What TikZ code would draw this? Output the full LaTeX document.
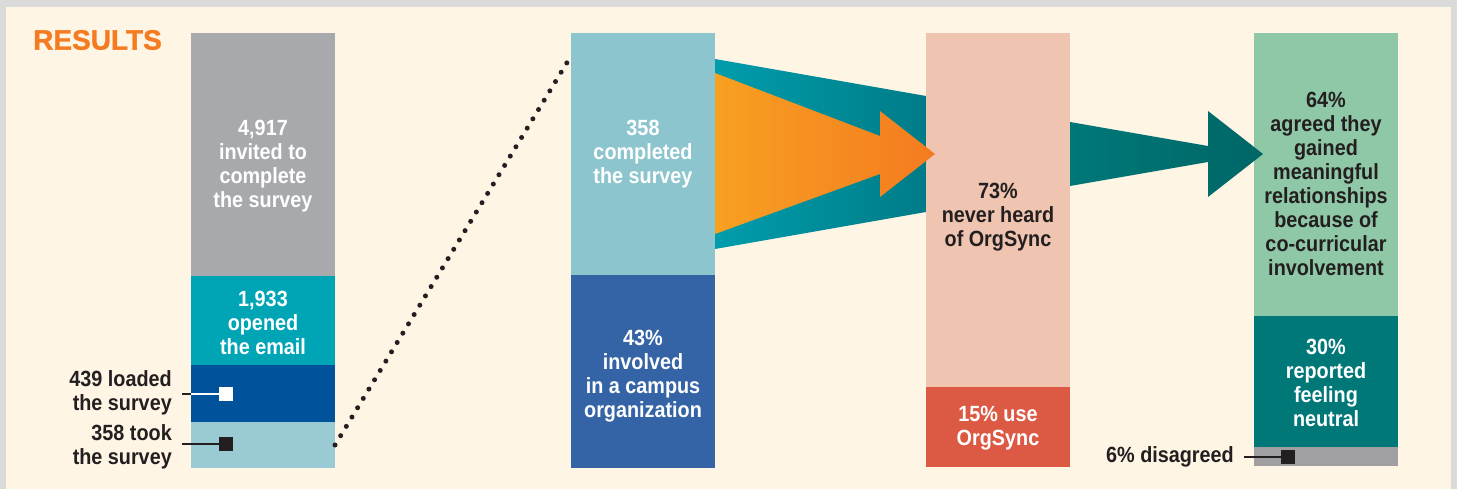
\documentclass[tikz,border=0pt]{standalone}
\usepackage{fontspec}
\newfontfamily\infofont{Liberation Sans}[FakeStretch=0.9]
\newfontfamily\headfont{Liberation Sans}[FakeBold=1.2]
\usetikzlibrary{positioning}

%% palette
\definecolor{frame}{HTML}{DADADA}
\definecolor{cream}{HTML}{FEF5E5}
\definecolor{ink}{HTML}{231F20}
\definecolor{orng}{HTML}{F47B20}
\definecolor{amber}{HTML}{F7A021}
\definecolor{gryA}{HTML}{A7A9AC}
\definecolor{tealA}{HTML}{00A5B5}
\definecolor{navyA}{HTML}{00539B}
\definecolor{skyA}{HTML}{9ACBD5}
\definecolor{skyB}{HTML}{8DC5CF}
\definecolor{blueB}{HTML}{3463A6}
\definecolor{pinkC}{HTML}{EFC4B1}
\definecolor{redC}{HTML}{DC5944}
\definecolor{greenD}{HTML}{8FC8A6}
\definecolor{tealD}{HTML}{007878}
\definecolor{gryD}{HTML}{A0A0A2}

\begin{document}
\begin{tikzpicture}[x=1pt, y=-1pt,
	bar/.style={inner sep=0pt, outer sep=0pt, minimum width=144pt, anchor=north west},
	val/.style={font=\infofont\bfseries\fontsize{22}{24}\selectfont, align=center, inner sep=0pt, text=white},
	note/.style={val, text=ink, align=right, anchor=east},
	tick/.style={fill=#1, minimum size=14pt, inner sep=0pt, outer sep=0pt},
	lead/.style={line width=2pt, ink},
	dots/.style={line width=5pt, line cap=round, dash pattern=on 0pt off 10.9pt, ink}]
	\useasboundingbox (0,0) rectangle (1457,489);

	%% Backdrop
	\fill [frame] (0,0) rectangle (1457,489);
	\fill [cream] (6,7) rectangle (1451,489);
	\node [font=\headfont\bfseries\fontsize{28}{28}\selectfont, text=orng, anchor=west, inner sep=0pt] (title) at (33,40) {RESULTS};

	%% Column 1
	\node [bar, fill=gryA, minimum height=243pt] (invited) at (191,33) {};
	\node [bar, fill=tealA, minimum height=89pt, below=0pt of invited] (opened) {};
	\node [bar, fill=navyA, minimum height=57pt, below=0pt of opened] (loaded) {};
	\node [bar, fill=skyA, minimum height=46pt, below=0pt of loaded] (took) {};
	\node [val] (tInvited) at (263,166) {4,917\\invited to\\complete\\the survey};
	\node [val] (tOpened) at (263,323) {1,933\\opened\\the email};

	%% Column 1 call-outs
	\node [note] (nLoaded) at (172,393) {439 loaded\\the survey};
	\node [note] (nTook) at (172,447) {358 took\\the survey};
	\coordinate (lLoaded) at (182,394);
	\coordinate (lTook) at (182,444);
	\node [tick=white] (mLoaded) at (226,394) {};
	\node [tick=ink] (mTook) at (226,444) {};
	\draw [lead] (lLoaded) -- (loaded.west |- mLoaded);
	\draw [lead, white] (loaded.west |- mLoaded) -- (mLoaded);
	\draw [lead] (lTook) -- (mTook);

	%% Column 2
	\node [bar, fill=skyB, minimum height=242pt] (completed) at (571,33) {};
	\node [bar, fill=blueB, minimum height=193pt, below=0pt of completed] (involved) {};
	\node [val] (tCompleted) at (643,154) {358\\completed\\the survey};
	\node [val] (tInvolved) at (643,376) {43\%\\involved\\in a campus\\organization};
	\draw [dots] (took.east) -- ([yshift=-23pt]completed.north west);

	%% Funnel behind the orange arrow
	\shade [left color=tealA!95!black, right color=tealA!75!black]
		(715,59) -- (926,96) -- (926,212) -- (715,249) -- cycle;

	%% Column 3
	\node [bar, fill=pinkC, minimum height=354pt] (never) at (926,33) {};
	\node [bar, fill=redC, minimum height=80pt, below=0pt of never] (use) {};
	\node [val, text=ink] (tNever) at (998,217) {73\%\\never heard\\of OrgSync};
	\node [val] (tUse) at (998,428) {15\% use\\OrgSync};

	%% Orange arrow
	\shade [left color=amber, right color=orng]
		(715,73) -- (880,136) -- (880,111) -- (935,154)
		-- (880,197) -- (880,174) -- (715,234) -- cycle;

	%% Column 4
	\node [bar, fill=greenD, minimum height=283pt] (agreed) at (1254,33) {};
	\node [bar, fill=tealD, minimum height=131pt, below=0pt of agreed] (neutral) {};
	\node [bar, fill=gryD, minimum height=19pt, below=0pt of neutral] (disagreed) {};
	\node [val, text=ink] (tAgreed) at (1326,184) {64\%\\agreed they\\gained\\meaningful\\relationships\\because of\\co-curricular\\involvement};
	\node [val] (tNeutral) at (1326,383) {30\%\\reported\\feeling\\neutral};

	%% Teal arrow
	\shade [left color=tealD, right color=tealD!85!black]
		(1070,122) -- (1208,146) -- (1208,111) -- (1263,154)
		-- (1208,197) -- (1208,162) -- (1070,186) -- cycle;

	%% Column 4 call-out
	\node [note] (nDisagreed) at (1234,457) {6\% disagreed};
	\coordinate (lDisagreed) at (1244,457);
	\node [tick=ink] (mDisagreed) at (1288,457) {};
	\draw [lead] (lDisagreed) -- (mDisagreed);
\end{tikzpicture}
\end{document}
